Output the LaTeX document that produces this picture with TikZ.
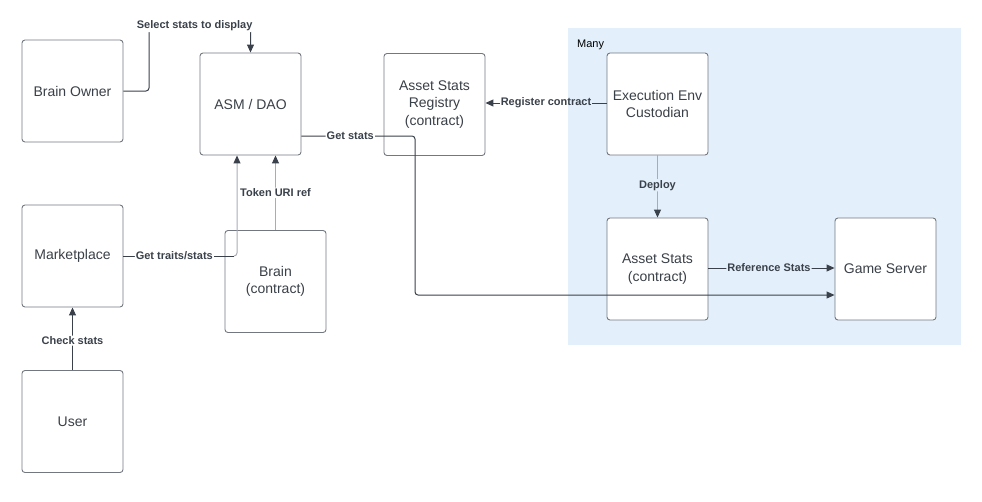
\documentclass[tikz,border=0pt]{standalone}
\usepackage{fontspec}
\setmainfont{Liberation Sans}
\usetikzlibrary{arrows.meta}
\definecolor{bluebg}{RGB}{227,240,252}
\definecolor{boxline}{RGB}{115,120,128}
\definecolor{txt}{RGB}{58,64,72}
\definecolor{dark}{RGB}{58,65,74}
\definecolor{lightln}{RGB}{168,173,180}
\tikzset{
  box/.style={draw=boxline, line width=0.9pt, rounded corners=3pt, fill=white,
    minimum width=101pt, minimum height=102pt, align=center, text=txt,
    font=\fontsize{14}{17.5}\selectfont, inner sep=2pt},
  conn/.style={draw=dark, line width=1pt, rounded corners=3pt},
  connlight/.style={draw=lightln, line width=1pt, rounded corners=3pt},
  tip/.style={-{Triangle[length=8pt,width=7pt,color=dark]}},
  lbl/.style={font=\bfseries\fontsize{11}{13}\selectfont, text=dark, fill=white, inner sep=1pt},
  lblb/.style={lbl, fill=bluebg},
  lbln/.style={font=\bfseries\fontsize{11}{13}\selectfont, text=dark, inner sep=1pt},
}
\begin{document}
\begin{tikzpicture}[x=1pt,y=-1pt]
\useasboundingbox (0,0) rectangle (982,501);
\fill[bluebg] (568,28) rectangle (961,345);
\node[anchor=west, font=\fontsize{11}{13}\selectfont, inner sep=0pt] (many) at (577,45) {Many};

\node[box] (bo) at (72.5,91) {Brain Owner};
\node[box] (asm) at (250.5,104) {ASM / DAO};
\node[box] (reg) at (434.5,104.5) {Asset Stats\\Registry\\(contract)};
\node[box] (exe) at (657.5,104) {Execution Env\\Custodian};
\node[box] (ast) at (657.5,269) {Asset Stats\\(contract)};
\node[box] (gs) at (885.5,269) {Game Server};
\node[box] (mkt) at (72.5,256) {Marketplace};
\node[box] (brain) at (275.5,281.5) {Brain\\(contract)};
\node[box] (user) at (72.5,421.5) {User};

% Select stats to display
\coordinate (s1) at (149,26);
\coordinate (s2) at (250.5,26);
\draw[conn,tip] (bo.east) -| (s1) -- node[lbl,pos=0.45]{Select stats to display} (s2) -- (asm.north);

% Get stats
\coordinate (g1) at (415,136);
\coordinate (g2) at (415,295);
\draw[conn,tip] (asm.east |- g1) -- node[lbl,pos=0.43]{Get stats} (g1) -- (g2) -- (gs.west |- g2);

% Register contract
\node[lbln] (rcl) at (546,103) {Register contract};
\draw[conn] (exe.west |- rcl) -- (rcl.east);
\draw[conn,tip] (rcl.west) -- (reg.east |- rcl);

% Deploy
\draw[connlight,tip] (exe.south) -- node[lblb,pos=0.48]{Deploy} (ast.north);

% Reference Stats
\draw[conn,tip] (ast.east |- 0,268) -- node[lblb,pos=0.48]{Reference Stats} (gs.west |- 0,268);

% Token URI ref
\draw[connlight,tip] (brain.north) -- node[lbl,pos=0.5]{Token URI ref} (asm.south -| brain.north);

% Get traits/stats
\coordinate (t1) at (237,256);
\draw[conn] (mkt.east) -- node[lbl,pos=0.46]{Get traits/stats} ([xshift=-3pt]t1);
\draw[connlight,tip] ([xshift=-3pt]t1) -- (t1) -- (asm.south -| t1);

% Check stats
\draw[conn,tip] (user.north) -- node[lbl,pos=0.47]{Check stats} (mkt.south);
\end{tikzpicture}
\end{document}
